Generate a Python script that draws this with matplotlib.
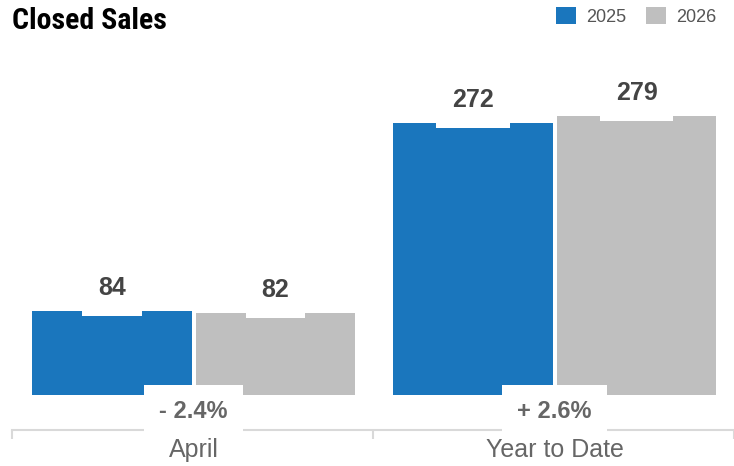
import numpy as np
import matplotlib.pyplot as plt
from matplotlib.ticker import FixedLocator, NullFormatter, FixedFormatter

# data
categories = ['April', 'Year to Date']
years = ['2025', '2026']
sales_2025 = [84, 272]
sales_2026 = [82, 279]

blue = '#1a76bd'
grey = '#bfbfbf'
font = ['Liberation Sans', 'DejaVu Sans']
narrow = ['Liberation Sans Narrow', 'Roboto Condensed', 'Liberation Sans', 'DejaVu Sans']

fig = plt.figure(figsize=(7.34, 4.66), dpi=100)
ax = fig.add_axes([12 / 734, 71 / 466, 722 / 734, 300 / 466])

x = np.arange(len(categories))
w = 0.443
off = 0.227
b1 = ax.bar(x - off + 0.003, sales_2025, w, color=blue, label=years[0], zorder=1)
b2 = ax.bar(x + off + 0.003, sales_2026, w, color=grey, label=years[1], zorder=1)

ax.set_xlim(-0.5, 1.5)
ax.set_ylim(0, 300)

# value labels with white box that cuts into the bar top
for bars, vals in [(b1, sales_2025), (b2, sales_2026)]:
    for rect, v in zip(bars, vals):
        ax.annotate(str(v), xy=(rect.get_x() + rect.get_width() / 2, v),
                    xytext=(0, 8), textcoords='offset points',
                    ha='center', va='bottom', fontsize=18, fontweight='bold',
                    color='#444444', family=font, zorder=4,
                    bbox=dict(boxstyle='square,pad=0.64', fc='white', ec='none'))

# percent change labels
for i in range(len(categories)):
    pct = (sales_2026[i] - sales_2025[i]) / sales_2025[i] * 100
    sign = '+' if pct >= 0 else '-'
    ax.annotate('%s %.1f%%' % (sign, abs(pct)), xy=(x[i] + 0.003, 0),
                xytext=(0, -12), textcoords='offset points',
                ha='center', va='center', fontsize=17, fontweight='bold',
                color='#666666', family=font, zorder=4,
                bbox=dict(boxstyle='square,pad=0.64', fc='white', ec='none'))

# axis
for s in ['top', 'right', 'left']:
    ax.spines[s].set_visible(False)
ax.spines['bottom'].set_position(('outward', 25))
ax.spines['bottom'].set_color('#d9d9d9')
ax.spines['bottom'].set_linewidth(1.5)
ax.set_yticks([])
ax.xaxis.set_major_locator(FixedLocator([-0.5, 0.5, 1.5]))
ax.xaxis.set_major_formatter(NullFormatter())
ax.xaxis.set_minor_locator(FixedLocator(x + 0.003))
ax.xaxis.set_minor_formatter(FixedFormatter(categories))
ax.tick_params(axis='x', which='major', length=6.5, width=1.5, color='#d9d9d9')
ax.tick_params(axis='x', which='minor', length=0, pad=6, labelsize=18, labelcolor='#666666')
for lab in ax.get_xticklabels(minor=True):
    lab.set_family(font)

fig.text(12 / 734, 1 - 29 / 466, 'Closed Sales', fontsize=21.5, fontweight='bold',
         family=narrow, color='black', ha='left', va='baseline')

leg = fig.legend(handles=[b1, b2], loc='upper right', bbox_to_anchor=(0.998, 1.02),
                 ncol=2, frameon=False, handlelength=1.1, handleheight=1.1,
                 handletextpad=0.55, columnspacing=1.1, prop={'family': font, 'size': 13})
for t in leg.get_texts():
    t.set_color('#555555')

fig.savefig('out.png', dpi=100)
